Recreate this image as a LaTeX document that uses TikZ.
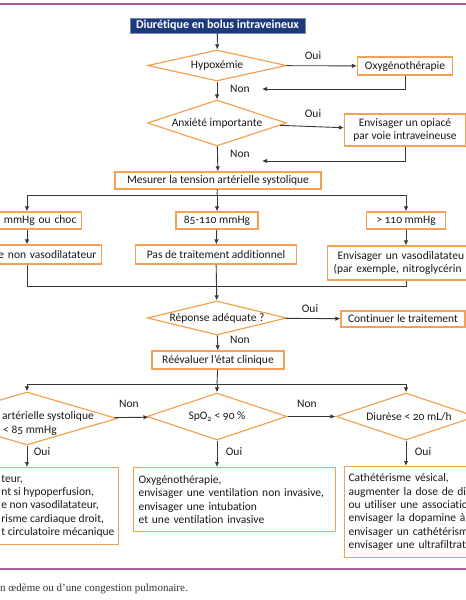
\documentclass[tikz,border=0pt]{standalone}
\usepackage{fontspec}
\setmainfont{Carlito}[Numbers=OldStyle,Ligatures=NoCommon]
\newfontfamily\notefont{Liberation Serif}
\usetikzlibrary{arrows.meta}
\usetikzlibrary{shapes.geometric}

\definecolor{boxorange}{RGB}{242,162,82}
\definecolor{headblue}{RGB}{30,58,122}
\definecolor{rulepurple}{RGB}{165,95,160}
\definecolor{linegray}{RGB}{55,55,55}

\begin{document}
\begin{tikzpicture}[x=1pt,y=-1pt,font=\fontsize{11.5}{13.4}\selectfont,
  box/.style={draw=boxorange,line width=1.2pt,inner sep=0pt,text=black!90},
  test/.style={diamond,draw=boxorange,line width=1.2pt,inner sep=0pt,text=black!90},
  lbl/.style={inner sep=0pt,text=black!90},
  >={Latex[length=5pt,width=4.5pt]}]
\useasboundingbox (0,0) rectangle (466,600);
\clip (0,0) rectangle (466,600);

\draw[rulepurple,line width=1.4pt] (0,4) -- (466,4);
\draw[rulepurple,line width=1.4pt] (0,569) -- (466,569);

% first part
\node[fill=headblue,draw=headblue!60,text=white,font=\bfseries\fontsize{12}{13.4}\selectfont,
      inner sep=0pt,minimum width=175pt,minimum height=15pt] (start) at (217.5,25.5) {Diurétique en bolus intraveineux};
\node[test,aspect=4.48,minimum width=139pt,minimum height=31pt] (hyp) at (217,65.5) {Hypoxémie};
\node[box,minimum width=95pt,minimum height=18pt] (oxy) at (405,66) {Oxygénothérapie};
\node[test,aspect=3.02,minimum width=139pt,minimum height=46pt] (anx) at (217,123) {Anxiété importante};
\node[box,minimum width=121pt,minimum height=32pt,align=center] (opi) at (405,130) {Envisager un opiacé\\par voie intraveineuse};
\node[box,minimum width=206pt,minimum height=17pt] (mes) at (218,180.5) {Mesurer la tension artérielle systolique};

\node[lbl] (oui1) at (313,56) {Oui};
\node[lbl] (non1) at (240,89) {Non};
\node[lbl] (oui2) at (313,114) {Oui};
\node[lbl] (non2) at (240,154) {Non};

\coordinate (r1) at (262,89);
\coordinate (r2) at (262,161);

\begin{scope}[linegray,line width=0.9pt]
  \draw[->] (start) -- (hyp);
  \draw[->] (hyp) -- (oxy);
  \draw[->] (oxy.south) |- (r1);
  \draw[->] (hyp) -- (anx);
  \draw[->] (anx) -- (opi);
  \draw[->] (opi.south) |- (r2);
  \draw[->] (anx) -- (mes);
\end{scope}

% three pressure branches
\node[box,anchor=east,minimum height=17pt,text width=116pt,inner xsep=5pt,align=right] (b1) at (82,220.5) {mmHg ou choc};
\node[box,minimum width=82pt,minimum height=17pt] (b2) at (217,220.5) {85-110 mmHg};
\node[box,minimum width=79pt,minimum height=17pt] (b3) at (406,220.5) {> 110 mmHg};
\node[box,anchor=east,minimum height=19pt,text width=140pt,inner xsep=5pt,align=right] (c1) at (102,254.5) {e non vasodilatateur};
\node[box,minimum width=161pt,minimum height=19pt] (c2) at (216,254.5) {Pas de traitement additionnel};
\node[box,anchor=west,minimum height=34pt,text width=140pt,inner xsep=6pt,align=left] (c3) at (327,263)
  {\hspace*{4pt}Envisager un vasodilatateu\\(par exemple, nitroglycérin};

\coordinate (j1l) at (27,195);
\coordinate (j1) at (217,195);
\coordinate (j1r) at (406,195);
\coordinate (j2l) at (27,286);
\coordinate (j2) at (217,286);
\coordinate (j2r) at (406,286);

\node[test,aspect=4.09,minimum width=139pt,minimum height=34pt] (rep) at (217,318) {Réponse adéquate ?};
\node[box,minimum width=124pt,minimum height=16pt] (cont) at (403,319) {Continuer le traitement};
\node[box,minimum width=132pt,minimum height=18pt] (reev) at (218,360) {Réévaluer l’état clinique};
\node[lbl] (oui3) at (310,309) {Oui};
\node[lbl] (non3) at (240,340) {Non};

\begin{scope}[linegray,line width=0.9pt]
  \draw (mes) -- (j1);
  \draw (j1l) -- (j1r);
  \draw[->] (j1l) -- (j1l |- b1.north);
  \draw[->] (j1) -- (b2);
  \draw[->] (j1r) -- (b3);
  \draw[->] (b1.south -| j1l) -- (c1.north -| j1l);
  \draw[->] (b2) -- (c2);
  \draw[->] (b3) -- (c3.north -| j1r);
  \draw (c1.south -| j2l) -- (j2l) -- (j2r) -- (c3.south -| j2r);
  \draw[->] (c2) -- (rep);
  \draw[->] (rep) -- (cont);
  \draw[->] (rep) -- (reev);
\end{scope}

% clinical reassessment
\coordinate (j3l) at (27,384);
\coordinate (j3) at (217,384);
\coordinate (j3r) at (406,384);

\node[test,aspect=3.4,minimum width=180pt,minimum height=53pt] (tas) at (27,418.5) {};
\node[lbl,anchor=west] (tas1) at (2,416.5) {artérielle systolique};
\node[lbl,anchor=west] (tas2) at (3,430.5) {< 85 mmHg};
\node[test,aspect=2.98,minimum width=140pt,minimum height=47pt] (spo) at (217,416.5) {SpO\textsubscript{2} < 90 \%};
\node[test,aspect=2.98,minimum width=140pt,minimum height=47pt] (diu) at (406,416.5) {\hspace*{6pt}Diurèse < 20 mL/h};

\node[lbl] (non4) at (129,404) {Non};
\node[lbl] (non5) at (307,404) {Non};
\node[lbl] (oui4) at (42,452) {Oui};
\node[lbl] (oui5) at (234,452) {Oui};
\node[lbl] (oui6) at (423,452) {Oui};

\node[box,anchor=north east,inner xsep=4pt,inner ysep=5pt,minimum height=77pt,align=left] (e1) at (119,467)
  {teur,\\nt si hypoperfusion,\\e non vasodilatateur,\\risme cardiaque droit,\\t circulatoire mécanique};
\node[box,anchor=north west,text width=192pt,inner xsep=5pt,inner ysep=4pt,minimum height=64pt,align=left] (e2) at (133,467)
  {Oxygénothérapie,\\envisager une ventilation non invasive,\\envisager une intubation\\et une ventilation invasive};
\node[box,anchor=north west,text width=140pt,inner xsep=4pt,inner ysep=4pt,minimum height=91pt,align=left] (e3) at (344,466)
  {Cathétérisme vésical,\\augmenter la dose de di\\ou utiliser une associatio\\envisager la dopamine à\\envisager un cathétérism\\envisager une ultrafiltrat};

\begin{scope}[linegray,line width=0.9pt]
  \draw (reev) -- (j3);
  \draw (j3l) -- (j3r);
  \draw[->] (j3l) -- (tas);
  \draw[->] (j3) -- (spo);
  \draw[->] (j3r) -- (diu);
  \draw[->] (tas) -- (spo);
  \draw[->] (spo) -- (diu);
  \draw[->] (tas) -- (tas |- e1.north);
  \draw[->] (spo) -- (spo |- e2.north);
  \draw[->] (diu) -- (diu |- e3.north);
\end{scope}

\node[anchor=west,inner sep=0pt,font=\notefont\fontsize{11}{13}\selectfont,text=black!80] (note) at (0,589)
  {n œdème ou d’une congestion pulmonaire.};
\end{tikzpicture}
\end{document}
